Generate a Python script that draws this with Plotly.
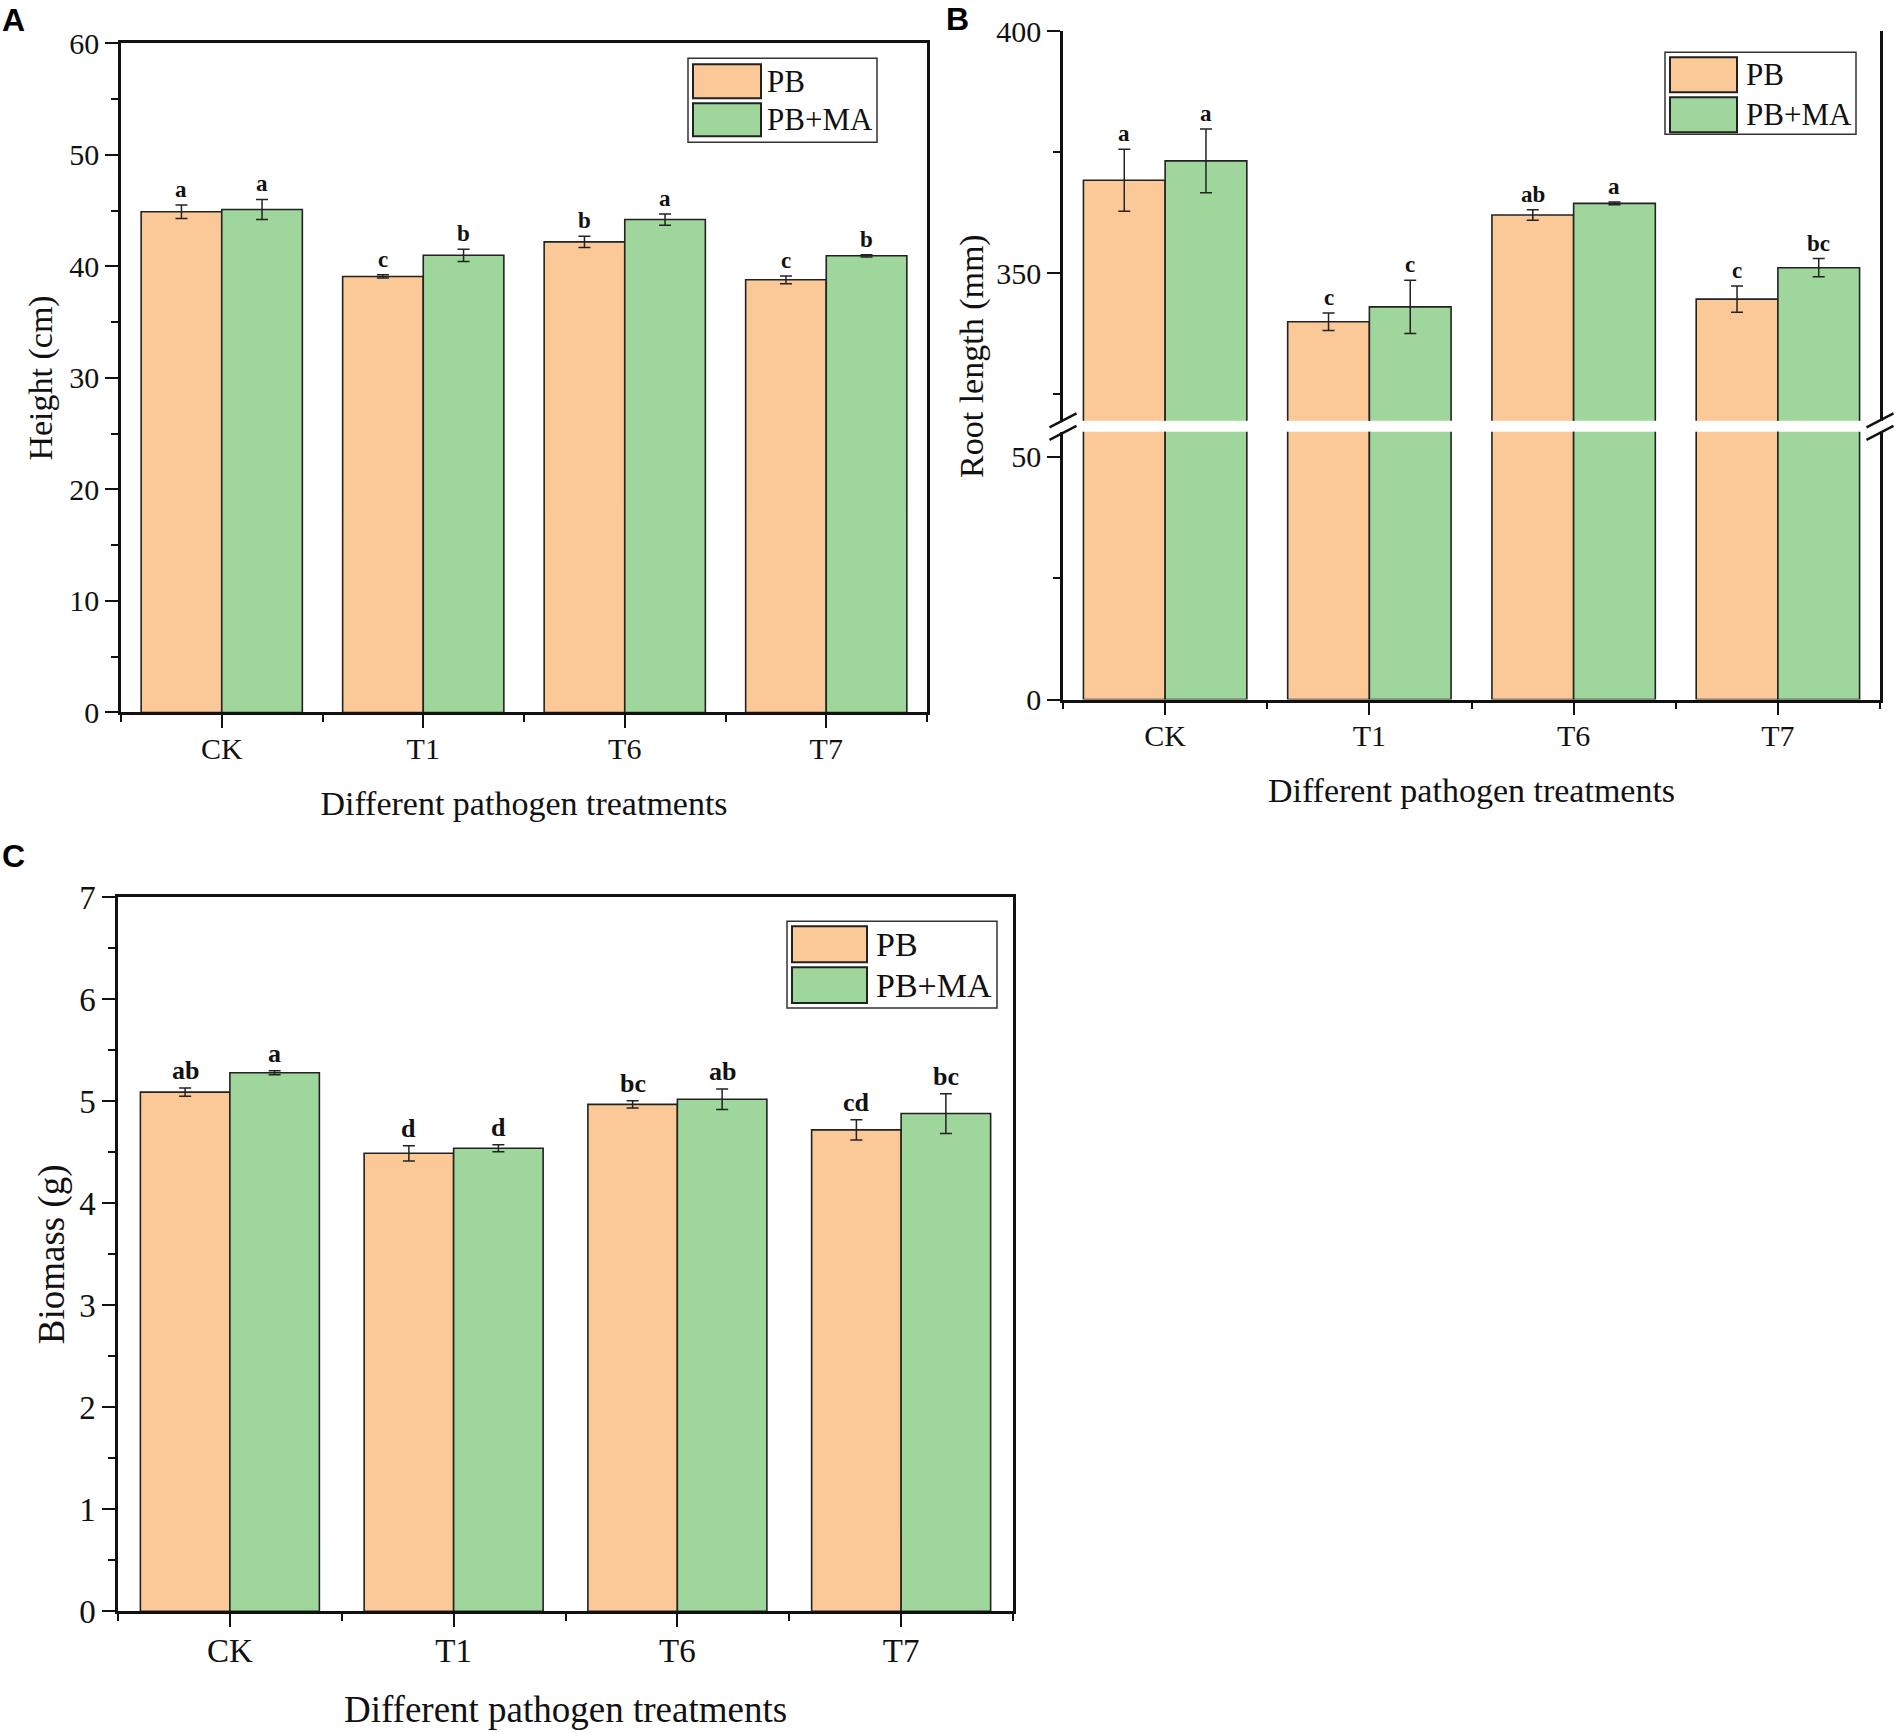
import plotly.graph_objects as go

W, H = 1896, 1733

treatments = ["CK", "T1", "T6", "T7"]
series = ["PB", "PB+MA"]
colors = ["#FBC897", "#9ED69C"]

# panel A: height (cm)
height_pb = [44.9, 39.1, 42.2, 38.8]
height_pb_err = [0.6, 0.15, 0.5, 0.35]
height_ma = [45.1, 41.0, 44.2, 40.95]
height_ma_err = [0.9, 0.55, 0.5, 0.1]
height_pb_lab = ["a", "c", "b", "c"]
height_ma_lab = ["a", "b", "a", "b"]

# panel B: root length (mm)
root_pb = [369.2, 339.9, 362.0, 344.6]
root_pb_err = [6.4, 1.8, 1.1, 2.7]
root_ma = [373.2, 343.0, 364.4, 351.1]
root_ma_err = [6.6, 5.5, 0.3, 1.9]
root_pb_lab = ["a", "c", "ab", "c"]
root_ma_lab = ["a", "c", "a", "bc"]

# panel C: biomass (g)
bio_pb = [5.09, 4.49, 4.97, 4.72]
bio_pb_err = [0.04, 0.075, 0.035, 0.1]
bio_ma = [5.28, 4.54, 5.02, 4.88]
bio_ma_err = [0.02, 0.035, 0.1, 0.195]
bio_pb_lab = ["ab", "d", "bc", "cd"]
bio_ma_lab = ["a", "d", "ab", "bc"]

pos = list(range(len(treatments)))
SERIF = "Liberation Serif, Times New Roman, serif"
INK = "#111111"

# the photographed page came out shifted/squeezed a little vertically,
# so pixel targets are corrected before turning them into paper coords
Y_OFF, Y_SCALE = 15.6, 0.9805


def px(x):
    return x / W


def py(y):
    return 1 - ((y - Y_OFF) / Y_SCALE) / H


fig = go.Figure()


def add_bars(xa, ya, vals, errs, show_err=True):
    for name, col, v, e in zip(series, colors, vals, errs):
        fig.add_trace(go.Bar(
            x=pos, y=v, name=name, marker_color=col,
            marker_line=dict(color="#222222", width=1.6),
            error_y=dict(type="data", array=e, color="#222222",
                         thickness=1.5, width=6, visible=show_err),
            xaxis=xa, yaxis=ya, offsetgroup=name, showlegend=False,
        ))


def add_letters(xa, ya, vals, errs, labs, size):
    for k, (v, e, l) in enumerate(zip(vals, errs, labs)):
        off = -0.2 if k == 0 else 0.2
        for i in pos:
            fig.add_annotation(x=i + off, y=v[i] + e[i], text="<b>%s</b>" % l[i],
                               xref=xa, yref=ya, showarrow=False, yanchor="bottom",
                               yshift=1, font=dict(family=SERIF, size=size, color=INK))


add_bars("x", "y", [height_pb, height_ma], [height_pb_err, height_ma_err])
add_letters("x", "y", [height_pb, height_ma], [height_pb_err, height_ma_err],
            [height_pb_lab, height_ma_lab], 23)

add_bars("x2", "y2", [root_pb, root_ma], [root_pb_err, root_ma_err])
add_bars("x2", "y3", [root_pb, root_ma], [root_pb_err, root_ma_err], show_err=False)
add_letters("x2", "y2", [root_pb, root_ma], [root_pb_err, root_ma_err],
            [root_pb_lab, root_ma_lab], 23)

add_bars("x4", "y4", [bio_pb, bio_ma], [bio_pb_err, bio_ma_err])
add_letters("x4", "y4", [bio_pb, bio_ma], [bio_pb_err, bio_ma_err],
            [bio_pb_lab, bio_ma_lab], 26)


def xax(dom, anchor, fs, show=True, side="bottom"):
    return dict(domain=dom, anchor=anchor, range=[-0.5, 3.5], side=side,
                tickmode="array", tickvals=pos, ticktext=treatments,
                showticklabels=show, ticks="outside" if show else "",
                ticklen=13, tickwidth=2.2, tickcolor=INK,
                showline=True, linewidth=2.5, linecolor=INK, showgrid=False,
                zeroline=False, tickfont=dict(family=SERIF, size=fs, color=INK),
                minor=dict(tickmode="array", tickvals=[-0.5, 0.5, 1.5, 2.5, 3.5],
                           ticks="outside" if show else "", ticklen=7,
                           tickwidth=1.8, tickcolor=INK),
                ticklabelstandoff=-5)


def yax(dom, anchor, rng, vals, minor_vals, fs):
    return dict(domain=dom, anchor=anchor, range=rng, tickmode="array",
                tickvals=vals, ticks="outside", ticklen=13, tickwidth=2.2,
                tickcolor=INK, showline=True, linewidth=2.5, linecolor=INK,
                mirror=True, showgrid=False, zeroline=False,
                tickfont=dict(family=SERIF, size=fs, color=INK),
                minor=dict(tickmode="array", tickvals=minor_vals, ticks="outside",
                           ticklen=7, tickwidth=1.8, tickcolor=INK),
                ticklabelstandoff=0)


xa = xax([px(121), px(927)], "y", 30)
xa["mirror"] = True
xa["title"] = dict(text="Different pathogen treatments", standoff=27,
                   font=dict(family=SERIF, size=34, color=INK))
ya = yax([py(712), py(42)], "x", [0, 60], list(range(0, 61, 10)),
         list(range(5, 60, 10)), 30)
ya["title"] = dict(text="Height (cm)", standoff=7,
                   font=dict(family=SERIF, size=34, color=INK))

xb = xax([px(1063), px(1880)], "y3", 30)
xb["title"] = dict(text="Different pathogen treatments", standoff=27,
                   font=dict(family=SERIF, size=34, color=INK))
xb_top = xax([px(1063), px(1880)], "y2", 30, show=False, side="top")
yb_up = yax([py(420), py(30)], "x2", [319.4, 400], [350, 400], [325, 375], 30)
yb_lo = yax([py(699), py(431)], "x2", [0, 55.1], [0, 50], [25], 30)

xc = xax([px(118), px(1013)], "y4", 33)
xc["mirror"] = True
xc["title"] = dict(text="Different pathogen treatments", standoff=29,
                   font=dict(family=SERIF, size=37, color=INK))
yc = yax([py(1612), py(897)], "x4", [0, 7], list(range(0, 8)),
         [0.5 + i for i in range(7)], 33)
yc["title"] = dict(text="Biomass (g)", standoff=4,
                   font=dict(family=SERIF, size=37, color=INK))

fig.update_layout(
    width=W, height=H, margin=dict(l=0, r=0, t=0, b=0),
    paper_bgcolor="white", plot_bgcolor="white",
    font=dict(family=SERIF, color=INK),
    barmode="group", bargap=0.2, bargroupgap=0,
    xaxis=xa, yaxis=ya,
    xaxis2=xb, xaxis3=xb_top, yaxis2=yb_up, yaxis3=yb_lo,
    xaxis4=xc, yaxis4=yc,
    showlegend=False,
)

# y title for the broken axis, centred over both segments
fig.add_annotation(x=px(972), y=py(355), xref="paper", yref="paper",
                   text="Root length (mm)", textangle=-90, showarrow=False,
                   xanchor="center", yanchor="middle",
                   font=dict(family=SERIF, size=34, color=INK))

# break marks on both sides of panel B
for xe in (1063, 1880):
    for yc_ in (419.5, 432):
        fig.add_shape(type="line", xref="paper", yref="paper",
                      x0=px(xe - 13.5), y0=py(yc_ + 7), x1=px(xe + 13.5), y1=py(yc_ - 7),
                      line=dict(color=INK, width=2.4))

# panel letters
for lab, x0, y0 in (("A", 0, 19), ("B", 944, 18), ("C", 0, 856)):
    fig.add_annotation(x=px(x0), y=py(y0), xref="paper", yref="paper", text="<b>%s</b>" % lab,
                       showarrow=False, xanchor="left", yanchor="middle",
                       font=dict(family="Liberation Sans, Arial, sans-serif", size=32, color="black"))


def add_legend(box, sw_x, sw_rows, text_x, fs):
    fig.add_shape(type="rect", xref="paper", yref="paper",
                  x0=px(box[0]), x1=px(box[1]), y0=py(box[3]), y1=py(box[2]),
                  line=dict(color="#333333", width=1.5), fillcolor="white")
    for name, col, (r0, r1) in zip(series, colors, sw_rows):
        fig.add_shape(type="rect", xref="paper", yref="paper",
                      x0=px(sw_x[0]), x1=px(sw_x[1]), y0=py(r1), y1=py(r0),
                      line=dict(color="#222222", width=2), fillcolor=col)
        fig.add_annotation(x=px(text_x), y=py((r0 + r1) / 2), xref="paper", yref="paper",
                           text=name, showarrow=False, xanchor="left", yanchor="middle",
                           font=dict(family=SERIF, size=fs, color=INK))


add_legend((688, 877, 57, 141), (693, 761), [(63, 97), (102, 135)], 765, 31)
add_legend((1665, 1856, 51, 133), (1670, 1737), [(56, 91), (96, 131)], 1744, 31)
add_legend((787, 997, 921, 1008), (792, 867), [(926, 962), (967, 1003)], 874, 34)

fig.write_html("out.html", config={"displayModeBar": False},
               post_script="document.body.style.margin='0';")
